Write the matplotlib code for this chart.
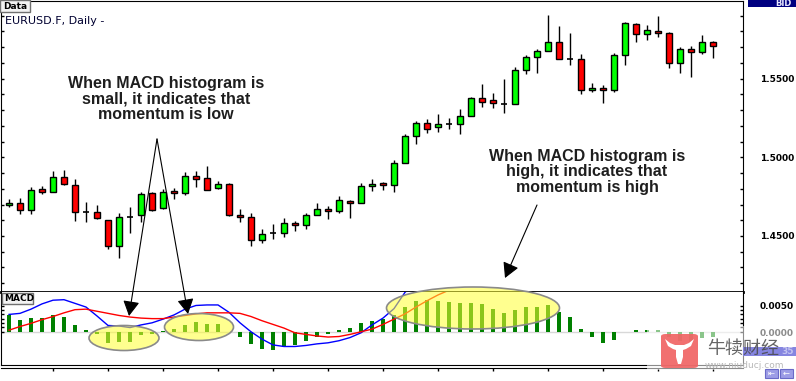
import numpy as np
import matplotlib
matplotlib.use('Agg')
import matplotlib.pyplot as plt
from matplotlib.patches import Rectangle, Ellipse, FancyArrowPatch, FancyBboxPatch, Polygon
from matplotlib.ticker import FixedLocator, MultipleLocator

# Datos de las velas (EURUSD diario)
opens = [1.4697, 1.4710, 1.4665, 1.4799, 1.4779, 1.4875, 1.4824, 1.4652, 1.4652, 1.4602,
         1.4437, 1.4621, 1.4633, 1.4773, 1.4678, 1.4786, 1.4773, 1.4881, 1.4868, 1.4805,
         1.4830, 1.4633, 1.4621, 1.4475, 1.4519, 1.4519, 1.4583, 1.4570, 1.4633, 1.4671,
         1.4659, 1.4722, 1.4710, 1.4818, 1.4837, 1.4824, 1.4964, 1.5135, 1.5218, 1.5192,
         1.5211, 1.5211, 1.5262, 1.5376, 1.5364, 1.5338, 1.5338, 1.5554, 1.5637, 1.5675,
         1.5732, 1.5624, 1.5624, 1.5427, 1.5440, 1.5427, 1.5649, 1.5846, 1.5783, 1.5802,
         1.5789, 1.5599, 1.5687, 1.5669, 1.5732]
highs = [1.4735, 1.4741, 1.4811, 1.4818, 1.4913, 1.4919, 1.4862, 1.4716, 1.4697, 1.4602,
         1.4646, 1.4684, 1.4779, 1.4779, 1.4799, 1.4805, 1.4906, 1.4913, 1.4945, 1.4849,
         1.4837, 1.4671, 1.4646, 1.4544, 1.4576, 1.4614, 1.4595, 1.4646, 1.4710, 1.4691,
         1.4754, 1.4729, 1.4837, 1.4862, 1.4843, 1.4983, 1.5148, 1.5230, 1.5243, 1.5275,
         1.5249, 1.5306, 1.5383, 1.5465, 1.5408, 1.5497, 1.5573, 1.5649, 1.5687, 1.5903,
         1.5834, 1.5789, 1.5656, 1.5472, 1.5459, 1.5662, 1.5859, 1.5853, 1.5840, 1.5897,
         1.5795, 1.5700, 1.5707, 1.5776, 1.5738]
lows = [1.4684, 1.4640, 1.4640, 1.4767, 1.4779, 1.4824, 1.4595, 1.4589, 1.4608, 1.4417,
        1.4360, 1.4519, 1.4589, 1.4659, 1.4671, 1.4735, 1.4760, 1.4811, 1.4792, 1.4799,
        1.4627, 1.4589, 1.4437, 1.4456, 1.4481, 1.4494, 1.4532, 1.4544, 1.4633, 1.4608,
        1.4646, 1.4614, 1.4710, 1.4786, 1.4792, 1.4779, 1.4964, 1.5084, 1.5154, 1.5160,
        1.5179, 1.5148, 1.5262, 1.5319, 1.5313, 1.5281, 1.5338, 1.5529, 1.5535, 1.5675,
        1.5624, 1.5586, 1.5402, 1.5414, 1.5345, 1.5414, 1.5586, 1.5732, 1.5745, 1.5764,
        1.5567, 1.5535, 1.5510, 1.5656, 1.5630]
closes = [1.4710, 1.4665, 1.4792, 1.4779, 1.4875, 1.4830, 1.4652, 1.4652, 1.4614, 1.4437,
          1.4621, 1.4621, 1.4767, 1.4665, 1.4779, 1.4773, 1.4881, 1.4862, 1.4792, 1.4830,
          1.4633, 1.4621, 1.4475, 1.4513, 1.4519, 1.4583, 1.4570, 1.4633, 1.4671, 1.4659,
          1.4729, 1.4710, 1.4818, 1.4830, 1.4824, 1.4964, 1.5135, 1.5218, 1.5179, 1.5211,
          1.5211, 1.5262, 1.5376, 1.5351, 1.5345, 1.5338, 1.5554, 1.5637, 1.5675, 1.5732,
          1.5624, 1.5624, 1.5427, 1.5440, 1.5427, 1.5649, 1.5853, 1.5783, 1.5808, 1.5789,
          1.5599, 1.5687, 1.5669, 1.5732, 1.5707]

# Indicador MACD
macd_hist = [0.0032, 0.0023, 0.0028, 0.0028, 0.0032, 0.0029, 0.0014, 0.0004, -0.0004, -0.0020,
             -0.0019, -0.0018, -0.0006, -0.0004, 0.0002, 0.0006, 0.0014, 0.0020, 0.0016, 0.0016,
             0.0001, -0.0009, -0.0023, -0.0032, -0.0034, -0.0027, -0.0024, -0.0016, -0.0008, -0.0003,
             0.0004, 0.0009, 0.0018, 0.0022, 0.0025, 0.0032, 0.0049, 0.0060, 0.0061, 0.0060,
             0.0058, 0.0055, 0.0056, 0.0053, 0.0045, 0.0037, 0.0042, 0.0049, 0.0049, 0.0051,
             0.0039, 0.0029, 0.0006, -0.0008, -0.0021, -0.0015, 0.0000, 0.0004, 0.0005, 0.0004,
             -0.0008, -0.0016, -0.0018, -0.0011, -0.0008]
macd_line = [0.0034, 0.0036, 0.0044, 0.0054, 0.0061, 0.0062, 0.0055, 0.0048, 0.0031, 0.0013,
             0.0012, 0.0009, 0.0014, 0.0018, 0.0025, 0.0033, 0.0044, 0.0051, 0.0052, 0.0052,
             0.0038, 0.0018, 0.0001, -0.0013, -0.0024, -0.0027, -0.0027, -0.0025, -0.0022, -0.0020,
             -0.0016, -0.0010, -0.0001, 0.0014, 0.0027, 0.0045, 0.0076, 0.0095, 0.0110, 0.0120,
             0.0126, 0.0130, 0.0134, 0.0135, 0.0133, 0.0130, 0.0132, 0.0135, 0.0137, 0.0139,
             0.0135, 0.0128, 0.0117, 0.0105, 0.0093, 0.0090, 0.0095, 0.0099, 0.0102, 0.0104,
             0.0098, 0.0092, 0.0088, 0.0087, 0.0086]
signal_line = [0.0004, 0.0011, 0.0017, 0.0024, 0.0030, 0.0037, 0.0043, 0.0044, 0.0040, 0.0036,
               0.0032, 0.0029, 0.0027, 0.0026, 0.0026, 0.0029, 0.0032, 0.0035, 0.0037, 0.0037,
               0.0037, 0.0036, 0.0030, 0.0022, 0.0015, 0.0008, -0.0001, -0.0004, -0.0007, -0.0009,
               -0.0008, -0.0004, 0.0001, 0.0006, 0.0015, 0.0025, 0.0035, 0.0048, 0.0060, 0.0071,
               0.0080, 0.0089, 0.0097, 0.0103, 0.0107, 0.0110, 0.0112, 0.0113, 0.0114, 0.0115,
               0.0116, 0.0116, 0.0115, 0.0113, 0.0110, 0.0107, 0.0104, 0.0101, 0.0099, 0.0098,
               0.0097, 0.0096, 0.0094, 0.0092, 0.0090]

# Etiquetas de los ejes
price_ticks = [1.45, 1.50, 1.55]
price_labels = ['1.4500', '1.5000', '1.5500']
macd_ticks = [0.0, 0.005]
macd_labels = ['0.0000', '0.0050']
macd_minor = [0.0010, 0.0018, 0.0026, 0.0034, 0.0042]

W, H = 796, 381


def fx(px):
    return px / W


def fy(py):
    return 1 - py / H


fig = plt.figure(figsize=(W / 100, H / 100), dpi=100)
fig.patch.set_facecolor('white')

x = np.arange(len(opens))
o = np.array(opens)
c = np.array(closes)
xlim = (-0.773, 66.727)

# Panel de precios
ax = fig.add_axes([fx(0.5), fy(292), fx(743) - fx(0.5), fy(0.5) - fy(292)])
ax.set_xlim(*xlim)
ax.set_ylim(1.41444, 1.59954)
ax.vlines(x, lows, highs, color='black', lw=1, zorder=2)
up = c > o
down = c < o
doji = c == o
ax.bar(x[up], (c - o)[up], bottom=o[up], width=0.48, color='#00ff00',
       edgecolor='black', linewidth=1, zorder=3)
ax.bar(x[down], (o - c)[down], bottom=c[down], width=0.48, color='#ff0000',
       edgecolor='black', linewidth=1, zorder=3)
ax.hlines(c[doji], x[doji] - 0.3, x[doji] + 0.3, color='black', lw=1.2, zorder=3)

ax.yaxis.set_major_locator(FixedLocator(price_ticks))
ax.set_yticklabels(price_labels)
ax.yaxis.set_minor_locator(MultipleLocator(0.01))
ax.tick_params(axis='y', which='both', left=True, right=True, labelleft=False,
               labelright=True, direction='in', length=2, width=1, pad=12)
ax.tick_params(axis='x', which='both', bottom=False, labelbottom=False)
for lab in ax.get_yticklabels():
    lab.set_fontweight('bold')
    lab.set_fontsize(6.5)
ax.spines['bottom'].set_linewidth(2)

# Panel MACD
ax2 = fig.add_axes([fx(0.5), fy(365), fx(743) - fx(0.5), fy(292) - fy(365)])
ax2.set_xlim(*xlim)
ax2.set_ylim(-0.006217, 0.007661)
ax2.axhline(0, color='#d8d8d8', lw=1, zorder=1)
ax2.bar(x, macd_hist, width=0.42, color='#008000', zorder=2)
ax2.plot(x, macd_line, color='#0000ff', lw=1, zorder=3)
ax2.plot(x, signal_line, color='#ff0000', lw=1, zorder=3)
ax2.yaxis.set_major_locator(FixedLocator(macd_ticks))
ax2.set_yticklabels(macd_labels)
ax2.yaxis.set_minor_locator(FixedLocator(macd_minor))
ax2.tick_params(axis='y', which='both', left=True, right=True, labelleft=False,
                labelright=True, direction='in', length=2, width=1, pad=12)
ax2.tick_params(axis='x', which='both', bottom=False, labelbottom=False)
for lab in ax2.get_yticklabels():
    lab.set_fontweight('bold')
    lab.set_fontsize(6.5)
ax2.spines['top'].set_visible(False)

# Eje de tiempo inferior
axx = fig.add_axes([fx(0.5), fy(368), fx(743) - fx(0.5), 0.0001])
axx.set_xlim(*xlim)
for s in ['top', 'left', 'right']:
    axx.spines[s].set_visible(False)
axx.set_yticks([])
axx.set_xticks(x[4::5])
axx.tick_params(axis='x', direction='out', length=2.2, width=1, labelbottom=False)

# Cajas de titulo
fig.add_artist(Rectangle((fx(0), fy(12)), 30 / W, 12 / H, transform=fig.transFigure,
                         facecolor='#f2f2f2', edgecolor='#707070', lw=1))
fig.text(fx(3), fy(6.5), 'Data', fontsize=6.5, fontweight='bold', va='center', ha='left')
fig.text(fx(5), fy(21), 'EURUSD.F, Daily -', fontsize=8, color='#000030', va='center', ha='left')
fig.add_artist(Rectangle((fx(2), fy(304)), 31 / W, 11 / H, transform=fig.transFigure,
                         facecolor='#f2f2f2', edgecolor='#707070', lw=1))
fig.text(fx(4), fy(298.5), 'MACD', fontsize=6.5, fontweight='bold', va='center', ha='left')
fig.add_artist(Rectangle((fx(748), fy(7.3)), 48 / W, 7.3 / H, transform=fig.transFigure,
                         facecolor='#000080', edgecolor='none'))
fig.text(fx(792), fy(4), 'BID', fontsize=6, fontweight='bold', color='#e8e8ff',
         va='center', ha='right')

# Anotaciones
fig.text(fx(166), fy(99), 'When MACD histogram is\nsmall, it indicates that\nmomentum is low',
         family='Liberation Sans', fontweight='bold', fontsize=11.5, color='#1e1e1e',
         ha='center', va='center', multialignment='center', linespacing=1.03)
fig.text(fx(587), fy(172), 'When MACD histogram is\nhigh, it indicates that\nmomentum is high',
         family='Liberation Sans', fontweight='bold', fontsize=11.5, color='#1e1e1e',
         ha='center', va='center', multialignment='center', linespacing=1.03)

estilo = '-|>,head_length=0.4,head_width=0.22'
for (xa, ya), (xb, yb) in [((157, 139), (129, 316)), ((157, 139), (188, 314)),
                           ((537, 205), (505, 278))]:
    fig.add_artist(FancyArrowPatch((fx(xa), fy(ya)), (fx(xb), fy(yb)),
                                   transform=fig.transFigure, arrowstyle=estilo,
                                   mutation_scale=23, color='black', lw=0.8,
                                   shrinkA=0, shrinkB=0))

# Elipses resaltando el histograma
for cx, cy, w, h in [(124, 338, 70, 25), (199, 327, 69, 27), (473, 308, 173, 42)]:
    fig.add_artist(Ellipse((fx(cx), fy(cy)), w / W, h / H, transform=fig.transFigure,
                           facecolor=(1, 1, 0.2, 0.55), edgecolor='#8a8a8a', lw=1.2))

# Marca de agua
fig.add_artist(Rectangle((fx(647), fy(370)), (796 - 647) / W, (370 - 326) / H,
                         transform=fig.transFigure, facecolor='white', alpha=0.55,
                         edgecolor='none'))
fig.add_artist(Rectangle((fx(743), fy(356)), 53 / W, 9 / H, transform=fig.transFigure,
                         facecolor='#8585e0', edgecolor='none'))
fig.text(fx(794), fy(351.5), '35', fontsize=6.5, fontweight='bold', color='#c4c4f0',
         va='center', ha='right')
fig.add_artist(FancyBboxPatch((fx(661), fy(368)), 37 / W, 34 / H,
                              boxstyle='round,pad=0,rounding_size=0.006',
                              transform=fig.transFigure, facecolor='#f06464',
                              edgecolor='none', alpha=0.92))
toro = [(665, 339), (668, 346), (673, 349), (676, 350), (676, 357), (678, 364), (681, 364),
        (683, 357), (683, 350), (686, 349), (691, 346), (694, 339), (689, 343), (684, 345),
        (675, 345), (670, 343)]
fig.add_artist(Polygon([(fx(a), fy(b)) for a, b in toro], closed=True,
                       transform=fig.transFigure, facecolor='white', edgecolor='none'))
fig.text(fx(743), fy(348.5), '牛犊财经', family=['Noto Sans CJK SC'], fontsize=13,
         color='#4a4a4a', alpha=0.85, va='center', ha='center')
fig.text(fx(744), fy(365.5), 'www.niuducj.com', fontsize=6.5, color='#b8b8b8',
         va='center', ha='center')

# Botones de navegacion
for bx, glifo in [(765, '⇤'), (780, '←')]:
    fig.add_artist(Rectangle((fx(bx), fy(378)), 12.5 / W, 9 / H, transform=fig.transFigure,
                             facecolor='#9d9de6', edgecolor='#6a6ac8', lw=0.8))
    fig.text(fx(bx + 6.2), fy(373.5), glifo, fontsize=6, color='white',
             va='center', ha='center')

fig.savefig('out.png', dpi=100)
